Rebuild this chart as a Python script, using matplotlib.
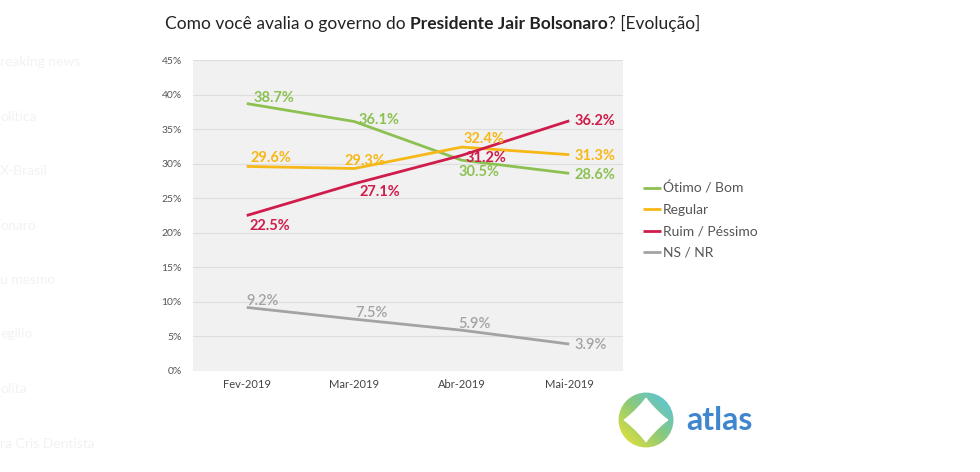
import numpy as np
import matplotlib
matplotlib.use('Agg')
import matplotlib.pyplot as plt
from matplotlib.patches import Circle, Polygon

plt.rcParams['font.family'] = ['Lato', 'DejaVu Sans']

# Datos del gráfico
meses = ['Fev-2019', 'Mar-2019', 'Abr-2019', 'Mai-2019']
series = ['Ótimo / Bom', 'Regular', 'Ruim / Péssimo', 'NS / NR']
otimo_bom = [38.7, 36.1, 30.5, 28.6]
regular = [29.6, 29.3, 32.4, 31.3]
ruim_pessimo = [22.5, 27.1, 31.2, 36.2]
ns_nr = [9.2, 7.5, 5.9, 3.9]
yticks = [0, 5, 10, 15, 20, 25, 30, 35, 40, 45]

valores = [otimo_bom, regular, ruim_pessimo, ns_nr]
colores = ['#8cc152', '#f6b817', '#d01c4b', '#a3a3a3']

# desplazamiento de las etiquetas (pixeles) por serie y punto
offsets = [
    [(7, 6), (4, 2), (-3, -12), (5, -2)],
    [(4, 8), (-10, 8), (2, 8), (5, -1)],
    [(3, -10), (5, -8), (4, -3), (5, 0)],
    [(0, 6), (1, 6), (-3, 6), (5, -1)],
]

fig = plt.figure(figsize=(9.8, 4.72), dpi=100)
fig.patch.set_facecolor('white')

# texto fantasma de la página de fondo
fantasma = ['reaking news', 'olítica', 'X-Brasil', 'onaro', 'u mesmo', 'egilio', 'olita',
            'ra Cris Dentista']
for i, t in enumerate(fantasma):
    y = 1 - (62 + i * 54.5) / 472
    fig.text(0.0, y, t, fontsize=10, color='#f2f2f2', va='center')

ax = fig.add_axes([193 / 980, 1 - 371 / 472, 430 / 980, 311 / 472])
ax.set_facecolor('#f1f1f1')
x = np.arange(len(meses))

for nombre, vals, col, offs in zip(series, valores, colores, offsets):
    ax.plot(x, vals, color=col, lw=2.0, label=nombre, solid_capstyle='butt', zorder=3)
    peso = 'semibold' if nombre == 'NS / NR' else 'bold'
    for xi, v, (dx, dy) in zip(x, vals, offs):
        ax.annotate(f'{v:.1f}%', (xi, v), xytext=(dx, dy), textcoords='offset pixels',
                    ha='left', va='center', fontsize=10.5, fontweight=peso, color=col,
                    zorder=4)

ax.set_xlim(-0.5, 3.5)
ax.set_ylim(0, 45)
ax.set_yticks(yticks)
ax.set_yticklabels([f'{t}%' for t in yticks])
ax.set_xticks(x)
ax.set_xticklabels(meses)
ax.tick_params(axis='y', length=0, pad=8, labelsize=7.5, labelcolor='#555555')
ax.tick_params(axis='x', length=0, pad=6, labelsize=8, labelcolor='#444444')
ax.grid(axis='y', color='#dedede', lw=0.8)
ax.set_axisbelow(True)
for s in ax.spines.values():
    s.set_visible(False)

fig.legend(loc='upper left', bbox_to_anchor=(630 / 980, 1 - 169 / 472), frameon=False,
           fontsize=10, handlelength=1.3, handletextpad=0.15, labelspacing=0.68,
           labelcolor='#555555')

# título con parte en negrita
partes = [('Como você avalia o governo do ', 'normal'),
          ('Presidente Jair Bolsonaro', 'bold'),
          ('? [Evolução]', 'normal')]
renderer = fig.canvas.get_renderer()
xpos = 165
for txt, w in partes:
    t = fig.text(xpos / 980, 1 - 29 / 472, txt, fontsize=12.5, fontweight=w,
                 color='#222222', va='baseline')
    xpos = t.get_window_extent(renderer).x1

# logo atlas
lax = fig.add_axes([618 / 980, 1 - 448 / 472, 56 / 980, 56 / 472])
lax.set_xlim(-1, 1)
lax.set_ylim(-1, 1)
lax.set_aspect('equal')
lax.axis('off')
gx, gy = np.meshgrid(np.linspace(-1, 1, 200), np.linspace(-1, 1, 200))
grad = (gx + gy + 2) / 4
cmap = matplotlib.colors.LinearSegmentedColormap.from_list('atlas', ['#f3e52c', '#8cc97a', '#4ec3f0'])
im = lax.imshow(grad, extent=(-1, 1, -1, 1), origin='lower', cmap=cmap)
im.set_clip_path(Circle((0, 0), 0.98, transform=lax.transData))
th = np.linspace(0, 2 * np.pi, 400)
p = 0.9
r = 0.78 / (np.abs(np.cos(th)) ** p + np.abs(np.sin(th)) ** p) ** (1 / p)
lax.add_patch(Polygon(np.column_stack([r * np.cos(th), r * np.sin(th)]), color='white'))
fig.text(686 / 980, 1 - 421 / 472, 'atlas', fontsize=23, fontweight='bold', color='#3f86cf',
         va='center', ha='left')

fig.savefig('out.png', dpi=100)
